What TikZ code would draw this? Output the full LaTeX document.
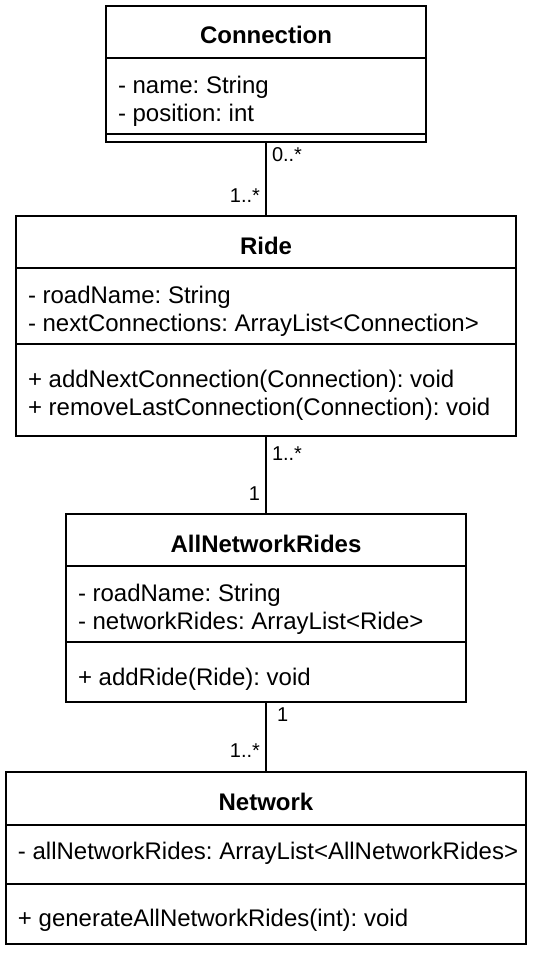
\documentclass[tikz,border=0pt]{standalone}
\usepackage{fontspec}
\setmainfont{Liberation Sans}
\usetikzlibrary{positioning}
\frenchspacing

\begin{document}
\begin{tikzpicture}[x=0.5pt, y=-0.5pt, line width=1pt,
	classbox/.style={draw, inner sep=0pt, outer sep=0pt},
	classname/.style={inner sep=0pt, font=\bfseries\fontsize{12}{14}\selectfont},
	member/.style={anchor=west, inner sep=0pt, font=\fontsize{12}{14}\selectfont},
	mult/.style={inner sep=0pt, font=\fontsize{10}{12}\selectfont}]
	\useasboundingbox (0,0) rectangle (534,956);

	% Connection
	\node [classbox, minimum width=160pt, minimum height=68pt] (conn) at (266,74) {};
	\node [classname] (conn-name) at (266,35) {Connection};
	\draw (conn.west |- 0,58) -- (conn.east |- 0,58);
	\node [member] (conn-a1) at (117,87) {- name: String};
	\node [member] (conn-a2) at (117,115) {- position: int};
	\draw (conn.west |- 0,134) -- (conn.east |- 0,134);

	% Ride
	\node [classbox, minimum width=250pt, minimum height=110pt] (ride) at (266,326) {};
	\node [classname] (ride-name) at (266,246) {Ride};
	\draw (ride.west |- 0,268) -- (ride.east |- 0,268);
	\node [member] (ride-a1) at (27,297) {- roadName: String};
	\node [member] (ride-a2) at (27,325) {- nextConnections: ArrayList<Connection>};
	\draw (ride.west |- 0,344) -- (ride.east |- 0,344);
	\node [member] (ride-m1) at (27,381) {+ addNextConnection(Connection): void};
	\node [member] (ride-m2) at (27,409) {+ removeLastConnection(Connection): void};

	% AllNetworkRides
	\node [classbox, minimum width=200pt, minimum height=94pt] (anr) at (266,608) {};
	\node [classname] (anr-name) at (266,544) {AllNetworkRides};
	\draw (anr.west |- 0,566) -- (anr.east |- 0,566);
	\node [member] (anr-a1) at (77,595) {- roadName: String};
	\node [member] (anr-a2) at (77,623) {- networkRides: ArrayList<Ride>};
	\draw (anr.west |- 0,642) -- (anr.east |- 0,642);
	\node [member] (anr-m1) at (77,679) {+ addRide(Ride): void};

	% Network
	\node [classbox, minimum width=260pt, minimum height=86pt] (net) at (266,858) {};
	\node [classname] (net-name) at (266,802) {Network};
	\draw (net.west |- 0,825) -- (net.east |- 0,825);
	\node [member] (net-a1) at (17,853) {- allNetworkRides: ArrayList<AllNetworkRides>};
	\draw (net.west |- 0,884) -- (net.east |- 0,884);
	\node [member] (net-m1) at (17,920) {+ generateAllNetworkRides(int): void};

	% associations
	\draw (conn.south) -- (ride.north);
	\node [mult, anchor=west] (m-conn) at (271,155) {0..*};
	\node [mult, anchor=east] (m-ride1) at (261,196) {1..*};
	\draw (ride.south) -- (anr.north);
	\node [mult, anchor=west] (m-ride2) at (271,454) {1..*};
	\node [mult, anchor=east] (m-anr1) at (261,494) {1};
	\draw (anr.south) -- (net.north);
	\node [mult, anchor=west] (m-anr2) at (276,715) {1};
	\node [mult, anchor=east] (m-net) at (261,751) {1..*};
\end{tikzpicture}
\end{document}
